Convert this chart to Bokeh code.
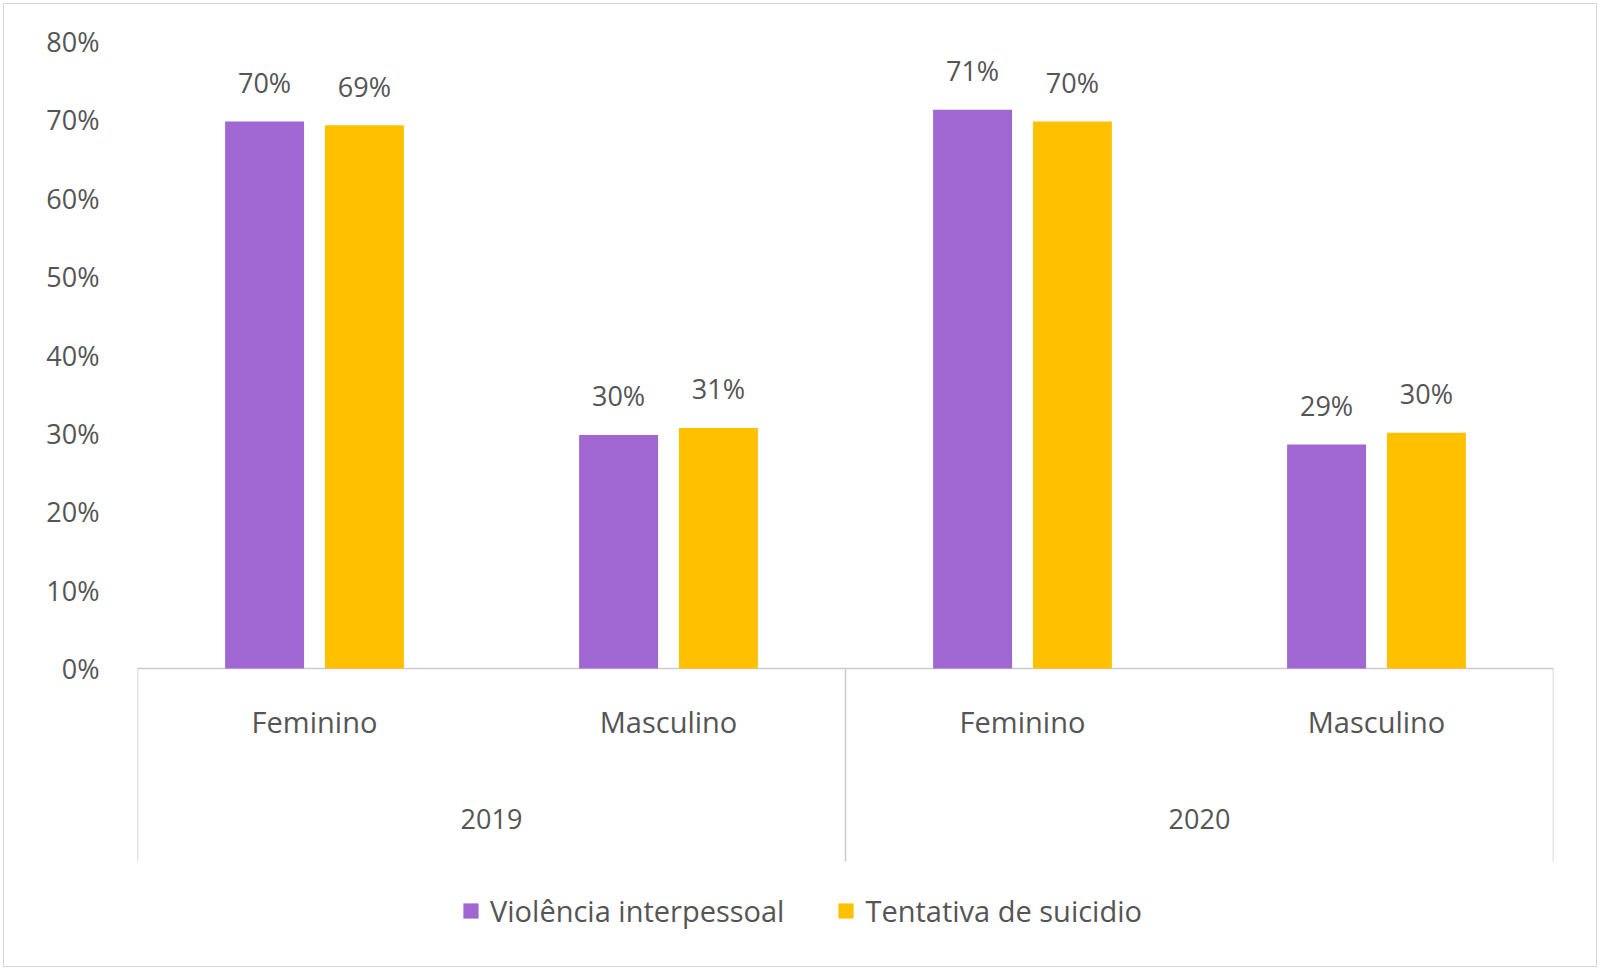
from bokeh.plotting import figure
from bokeh.models import FactorRange, Range1d, FixedTicker, PrintfTickFormatter, ColumnDataSource
from bokeh.transform import dodge
from bokeh.core.properties import value
from bokeh.embed import file_html
from bokeh.resources import INLINE

# ---- data ----
years = ["2019", "2020"]
sexes = ["Feminino", "Masculino"]
series_names = ["Violência interpessoal", "Tentativa de suicidio"]
violencia = [69.8, 29.8, 71.3, 28.6]
tentativa = [69.3, 30.7, 69.8, 30.1]
y_ticks = [0, 10, 20, 30, 40, 50, 60, 70, 80]

factors = [(y, s) for y in years for s in sexes]

PURPLE = "#A066D2"
GOLD = "#FFC000"
TXT = "#555555"
LINE = "#cccccc"
FONT = "Open Sans"
FS_NUM = "27px"
FS_WORD = "29px"

src = ColumnDataSource(dict(
    x=factors,
    v1=violencia,
    v2=tentativa,
    l1=[f"{round(v)}%" for v in violencia],
    l2=[f"{round(v)}%" for v in tentativa],
))

p = figure(
    width=1600, height=970,
    x_range=FactorRange(*factors, range_padding=0, factor_padding=0, group_padding=0),
    y_range=Range1d(-35.33, 80),
    x_axis_location=None,
    output_backend="svg", toolbar_location=None,
    min_border_left=137, min_border_right=47, min_border_top=41, min_border_bottom=25,
)
p.outline_line_color = None
p.xgrid.visible = False
p.ygrid.visible = False
p.background_fill_color = "white"
p.border_fill_color = "white"

yax = p.yaxis[0]
yax.ticker = FixedTicker(ticks=y_ticks)
yax.formatter = PrintfTickFormatter(format="%d%%")
yax.axis_line_color = None
yax.major_tick_line_color = None
yax.minor_tick_line_color = None
yax.major_tick_in = 0
yax.major_tick_out = 0
yax.major_label_standoff = 38
yax.major_label_text_font = FONT
yax.major_label_text_font_size = FS_NUM
yax.major_label_text_color = TXT

# axis line and category separators
p.segment(x0=[0], y0=[0], x1=[4], y1=[0], line_color=LINE, line_width=1.5)
p.segment(x0=[0, 2, 4], y0=[0, 0, 0], x1=[0, 2, 4], y1=[-24.6, -24.6, -24.6],
          line_color=LINE, line_width=1.5)

off = 0.141
bw = 0.223
p.vbar(x=dodge("x", -off, range=p.x_range), top="v1", width=bw, source=src,
       fill_color=PURPLE, line_color=None, legend_label=series_names[0])
p.vbar(x=dodge("x", off, range=p.x_range), top="v2", width=bw, source=src,
       fill_color=GOLD, line_color=None, legend_label=series_names[1])

for col, lab, o in (("v1", "l1", -off), ("v2", "l2", off)):
    p.text(x=dodge("x", o, range=p.x_range), y=col, text=lab, source=src,
           text_align="center", text_baseline="alphabetic", y_offset=-39,
           text_font=value(FONT), text_font_size=FS_NUM, text_color=TXT)

# category labels
p.text(x=factors, y=[-6.78] * len(factors), text=[f[1] for f in factors],
       text_align="center", text_baseline="alphabetic",
       text_font=value(FONT), text_font_size=FS_WORD, text_color=TXT)
p.text(x=years, y=[-19.13] * len(years), text=years,
       text_align="center", text_baseline="alphabetic",
       text_font=value(FONT), text_font_size=FS_NUM, text_color=TXT)

lg = p.legend[0]
lg.orientation = "horizontal"
lg.location = (324, 15)
lg.border_line_color = None
lg.background_fill_alpha = 0
lg.padding = 0
lg.margin = 0
lg.spacing = 52
lg.glyph_width = 19
lg.glyph_height = 19
lg.label_standoff = 10
lg.label_text_font = FONT
lg.label_text_font_size = FS_WORD
lg.label_text_color = TXT

p.stylesheets = [
    ":host::after { content: ''; position: absolute; left: 3px; top: 3px; right: 3px; bottom: 3px;"
    " border: 1px solid #d6d6d6; pointer-events: none; z-index: 100; }"
]

open("out.html", "w").write(file_html(p, INLINE))
